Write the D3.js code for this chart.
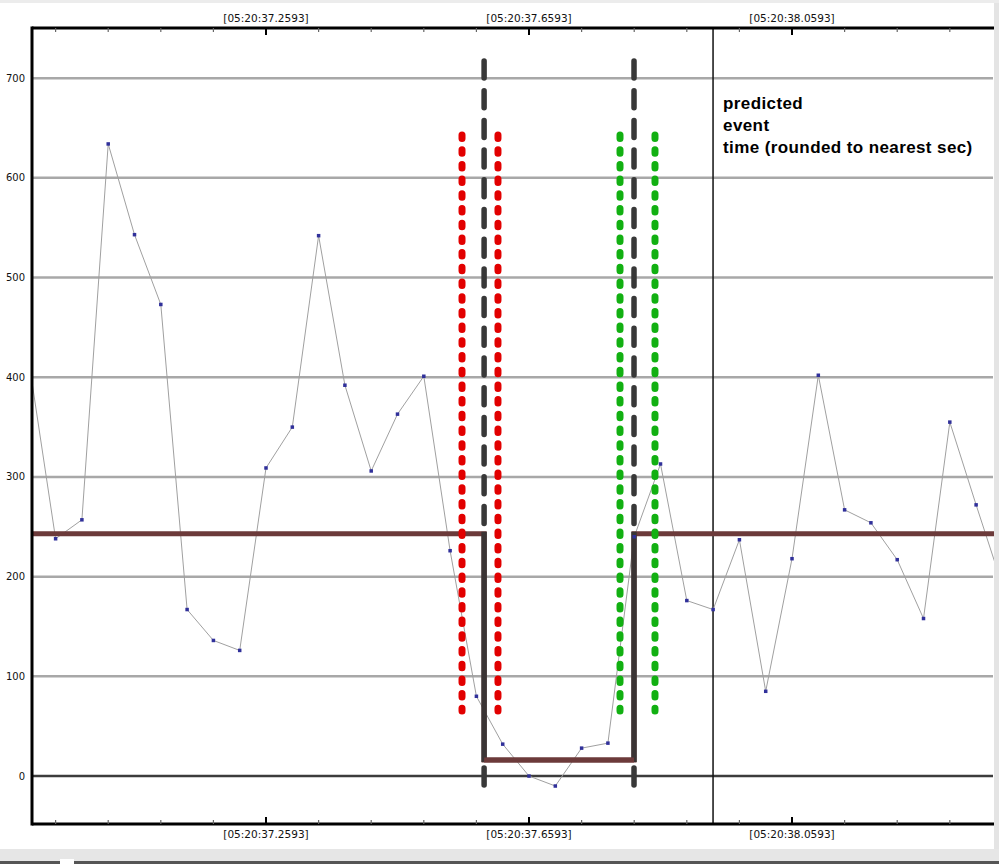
<!DOCTYPE html>
<html lang="en">
<head>
    <meta charset="UTF-8">
    <title>Event timing</title>
    <script src="https://d3js.org/d3.v7.min.js"></script>
    <style>
        body { margin: 0; background: #fff; }
        svg { display: block; }
        .tick-label { font-family: "DejaVu Sans", sans-serif; font-size: 10.5px; fill: #111; }
        .y-label { font-family: "DejaVu Sans", sans-serif; font-size: 10px; fill: #111; }
        .note { font-family: "Liberation Sans", Arial, sans-serif; font-size: 17px; font-weight: bold; letter-spacing: 0.4px; fill: #000; }
    </style>
</head>
<body>
<script>
    // sample times (seconds within 05:20) and values
    const times = [36.8993, 36.9393, 36.9793, 37.0193, 37.0593, 37.0993, 37.1393, 37.1793,
        37.2193, 37.2593, 37.2993, 37.3393, 37.3793, 37.4193, 37.4593, 37.4993, 37.5393,
        37.5793, 37.6193, 37.6593, 37.6993, 37.7393, 37.7793, 37.8193, 37.8593, 37.8993,
        37.9393, 37.9793, 38.0193, 38.0593, 38.0993, 38.1393, 38.1793, 38.2193, 38.2593,
        38.2993, 38.3393, 38.3793];
    const values = [413, 238, 257, 634, 543, 473, 167, 136, 126, 309, 350, 542, 392, 306,
        363, 401, 226, 80, 32, 0, -10, 28, 33, 240, 313, 176, 167, 237, 85, 218, 402, 267,
        254, 217, 158, 355, 272, 191];

    // square wave (detected event window)
    const stepTimes = [36.80, 37.591, 37.591, 37.819, 37.819, 38.40];
    const stepValues = [243, 243, 16, 16, 243, 243];

    const eventBounds = [37.591, 37.819];
    const redBounds = [37.5574, 37.6121];
    const greenBounds = [37.7977, 37.8509];
    const predictedTime = 37.9392;

    const majorTicks = [37.2593, 37.6593, 38.0593];
    const majorLabels = ["[05:20:37.2593]", "[05:20:37.6593]", "[05:20:38.0593]"];
    const minorTicks = [36.9393, 37.0193, 37.0993, 37.1793, 37.3393, 37.4193, 37.4993,
        37.5793, 37.7393, 37.8193, 37.8993, 37.9793, 38.1393, 38.2193, 38.2993];
    const yTicks = [0, 100, 200, 300, 400, 500, 600, 700];
    const noteLines = ["predicted", "event", "time (rounded to nearest sec)"];

    const width = 999, height = 864;
    const pLeft = 32, pRight = 994, pTop = 28, pBottom = 824;

    const x = d3.scaleLinear().domain([36.9034, 38.3665]).range([pLeft, pRight]);
    const y = d3.scaleLinear().domain([-48.1, 750.3]).range([pBottom, pTop]);

    const svg = d3.select("body").append("svg")
        .attr("width", width)
        .attr("height", height);

    // window chrome
    svg.append("rect").attr("x", pRight).attr("y", 0).attr("width", width - pRight).attr("height", height).attr("fill", "#e4e4e4");
    svg.append("rect").attr("x", 0).attr("y", 0).attr("width", width).attr("height", 3).attr("fill", "#ececec");
    svg.append("rect").attr("x", 0).attr("y", 849).attr("width", width).attr("height", 15).attr("fill", "#e6e6e6");
    svg.append("rect").attr("x", 0).attr("y", 861).attr("width", width).attr("height", 3).attr("fill", "#555");
    svg.append("rect").attr("x", 60).attr("y", 859).attr("width", 14).attr("height", 5).attr("fill", "#fff");

    svg.append("defs").append("clipPath").attr("id", "plot")
        .append("rect").attr("x", pLeft).attr("y", pTop).attr("width", pRight - pLeft).attr("height", pBottom - pTop);

    // grid
    svg.append("g").selectAll("line")
        .data(yTicks)
        .join("line")
        .attr("x1", pLeft).attr("x2", pRight - 1)
        .attr("y1", d => y(d)).attr("y2", d => y(d))
        .attr("stroke", d => d === 0 ? "#3c3c3c" : "#a8a8a8")
        .attr("stroke-width", 2.5);

    svg.append("g").selectAll("text")
        .data(yTicks)
        .join("text")
        .attr("class", "y-label")
        .attr("x", 25)
        .attr("y", d => y(d))
        .attr("dy", "0.35em")
        .attr("text-anchor", "end")
        .text(d => d);

    const plot = svg.append("g").attr("clip-path", "url(#plot)");

    // predicted event time
    plot.append("line")
        .attr("x1", x(predictedTime)).attr("x2", x(predictedTime))
        .attr("y1", pTop).attr("y2", pBottom)
        .attr("stroke", "#111").attr("stroke-width", 1.5);

    // data trace
    const pts = times.map((t, i) => [t, values[i]]);
    plot.append("path")
        .datum(pts)
        .attr("d", d3.line().x(d => x(d[0])).y(d => y(d[1])))
        .attr("fill", "none")
        .attr("stroke", "#a0a0a0")
        .attr("stroke-width", 1);

    // square wave
    const step = stepTimes.map((t, i) => [t, stepValues[i]]);
    plot.append("path")
        .datum(step)
        .attr("d", d3.line().x(d => x(d[0])).y(d => y(d[1])))
        .attr("fill", "none")
        .attr("stroke", "#6c3a3a")
        .attr("stroke-width", 5);

    // dotted bounds
    function dotted(t, color) {
        plot.append("line")
            .attr("x1", x(t)).attr("x2", x(t))
            .attr("y1", 135).attr("y2", 711)
            .attr("stroke", color)
            .attr("stroke-width", 7)
            .attr("stroke-linecap", "round")
            .attr("stroke-dasharray", "3.5 11.2");
    }
    redBounds.forEach(t => dotted(t, "#e20000"));
    greenBounds.forEach(t => dotted(t, "#12b012"));

    // event window edges
    eventBounds.forEach(t => {
        plot.append("line")
            .attr("x1", x(t)).attr("x2", x(t))
            .attr("y1", 61).attr("y2", 524)
            .attr("stroke", "#383838")
            .attr("stroke-width", 5.5)
            .attr("stroke-linecap", "round")
            .attr("stroke-dasharray", "17 12.7");
        plot.append("line")
            .attr("x1", x(t)).attr("x2", x(t))
            .attr("y1", 768).attr("y2", 785)
            .attr("stroke", "#383838")
            .attr("stroke-width", 5.5)
            .attr("stroke-linecap", "round");
        plot.append("line")
            .attr("x1", x(t)).attr("x2", x(t))
            .attr("y1", y(stepValues[0]) - 2).attr("y2", y(stepValues[2]) + 2)
            .attr("stroke", "#3a3434")
            .attr("stroke-width", 5.5);
    });

    plot.append("path")
        .datum([[eventBounds[0], stepValues[2]], [eventBounds[1], stepValues[3]]])
        .attr("d", d3.line().x(d => x(d[0])).y(d => y(d[1])))
        .attr("stroke", "#6c3a3a")
        .attr("stroke-width", 5);

    // sample markers
    plot.append("g").selectAll("rect")
        .data(pts)
        .join("rect")
        .attr("x", d => x(d[0]) - 1.75)
        .attr("y", d => y(d[1]) - 1.75)
        .attr("width", 3.5).attr("height", 3.5)
        .attr("fill", "#30309a");

    // frame
    svg.append("line").attr("x1", pLeft).attr("x2", pRight).attr("y1", pTop).attr("y2", pTop).attr("stroke", "#000").attr("stroke-width", 3);
    svg.append("line").attr("x1", pLeft).attr("x2", pRight).attr("y1", pBottom).attr("y2", pBottom).attr("stroke", "#000").attr("stroke-width", 3);
    svg.append("line").attr("x1", pLeft).attr("x2", pLeft).attr("y1", pTop - 1.5).attr("y2", pBottom + 1.5).attr("stroke", "#000").attr("stroke-width", 3);

    // time ticks, top and bottom
    [[pTop, 1], [pBottom, -1]].forEach(([yy, dir]) => {
        svg.append("g").selectAll("line")
            .data(minorTicks)
            .join("line")
            .attr("x1", d => x(d)).attr("x2", d => x(d))
            .attr("y1", yy).attr("y2", yy + dir * 4)
            .attr("stroke", "#666").attr("stroke-width", 1.2);
        svg.append("g").selectAll("line")
            .data(majorTicks)
            .join("line")
            .attr("x1", d => x(d)).attr("x2", d => x(d))
            .attr("y1", yy).attr("y2", yy + dir * 7)
            .attr("stroke", "#000").attr("stroke-width", 2);
    });

    svg.append("g").selectAll("text")
        .data(majorTicks)
        .join("text")
        .attr("class", "tick-label")
        .attr("x", d => x(d))
        .attr("y", 22)
        .attr("text-anchor", "middle")
        .text((d, i) => majorLabels[i]);

    svg.append("g").selectAll("text")
        .data(majorTicks)
        .join("text")
        .attr("class", "tick-label")
        .attr("x", d => x(d))
        .attr("y", 838)
        .attr("text-anchor", "middle")
        .text((d, i) => majorLabels[i]);

    // annotation
    svg.append("g").selectAll("text")
        .data(noteLines)
        .join("text")
        .attr("class", "note")
        .attr("x", x(predictedTime) + 10)
        .attr("y", (d, i) => 109 + i * 22)
        .text(d => d);
</script>
</body>
</html>
